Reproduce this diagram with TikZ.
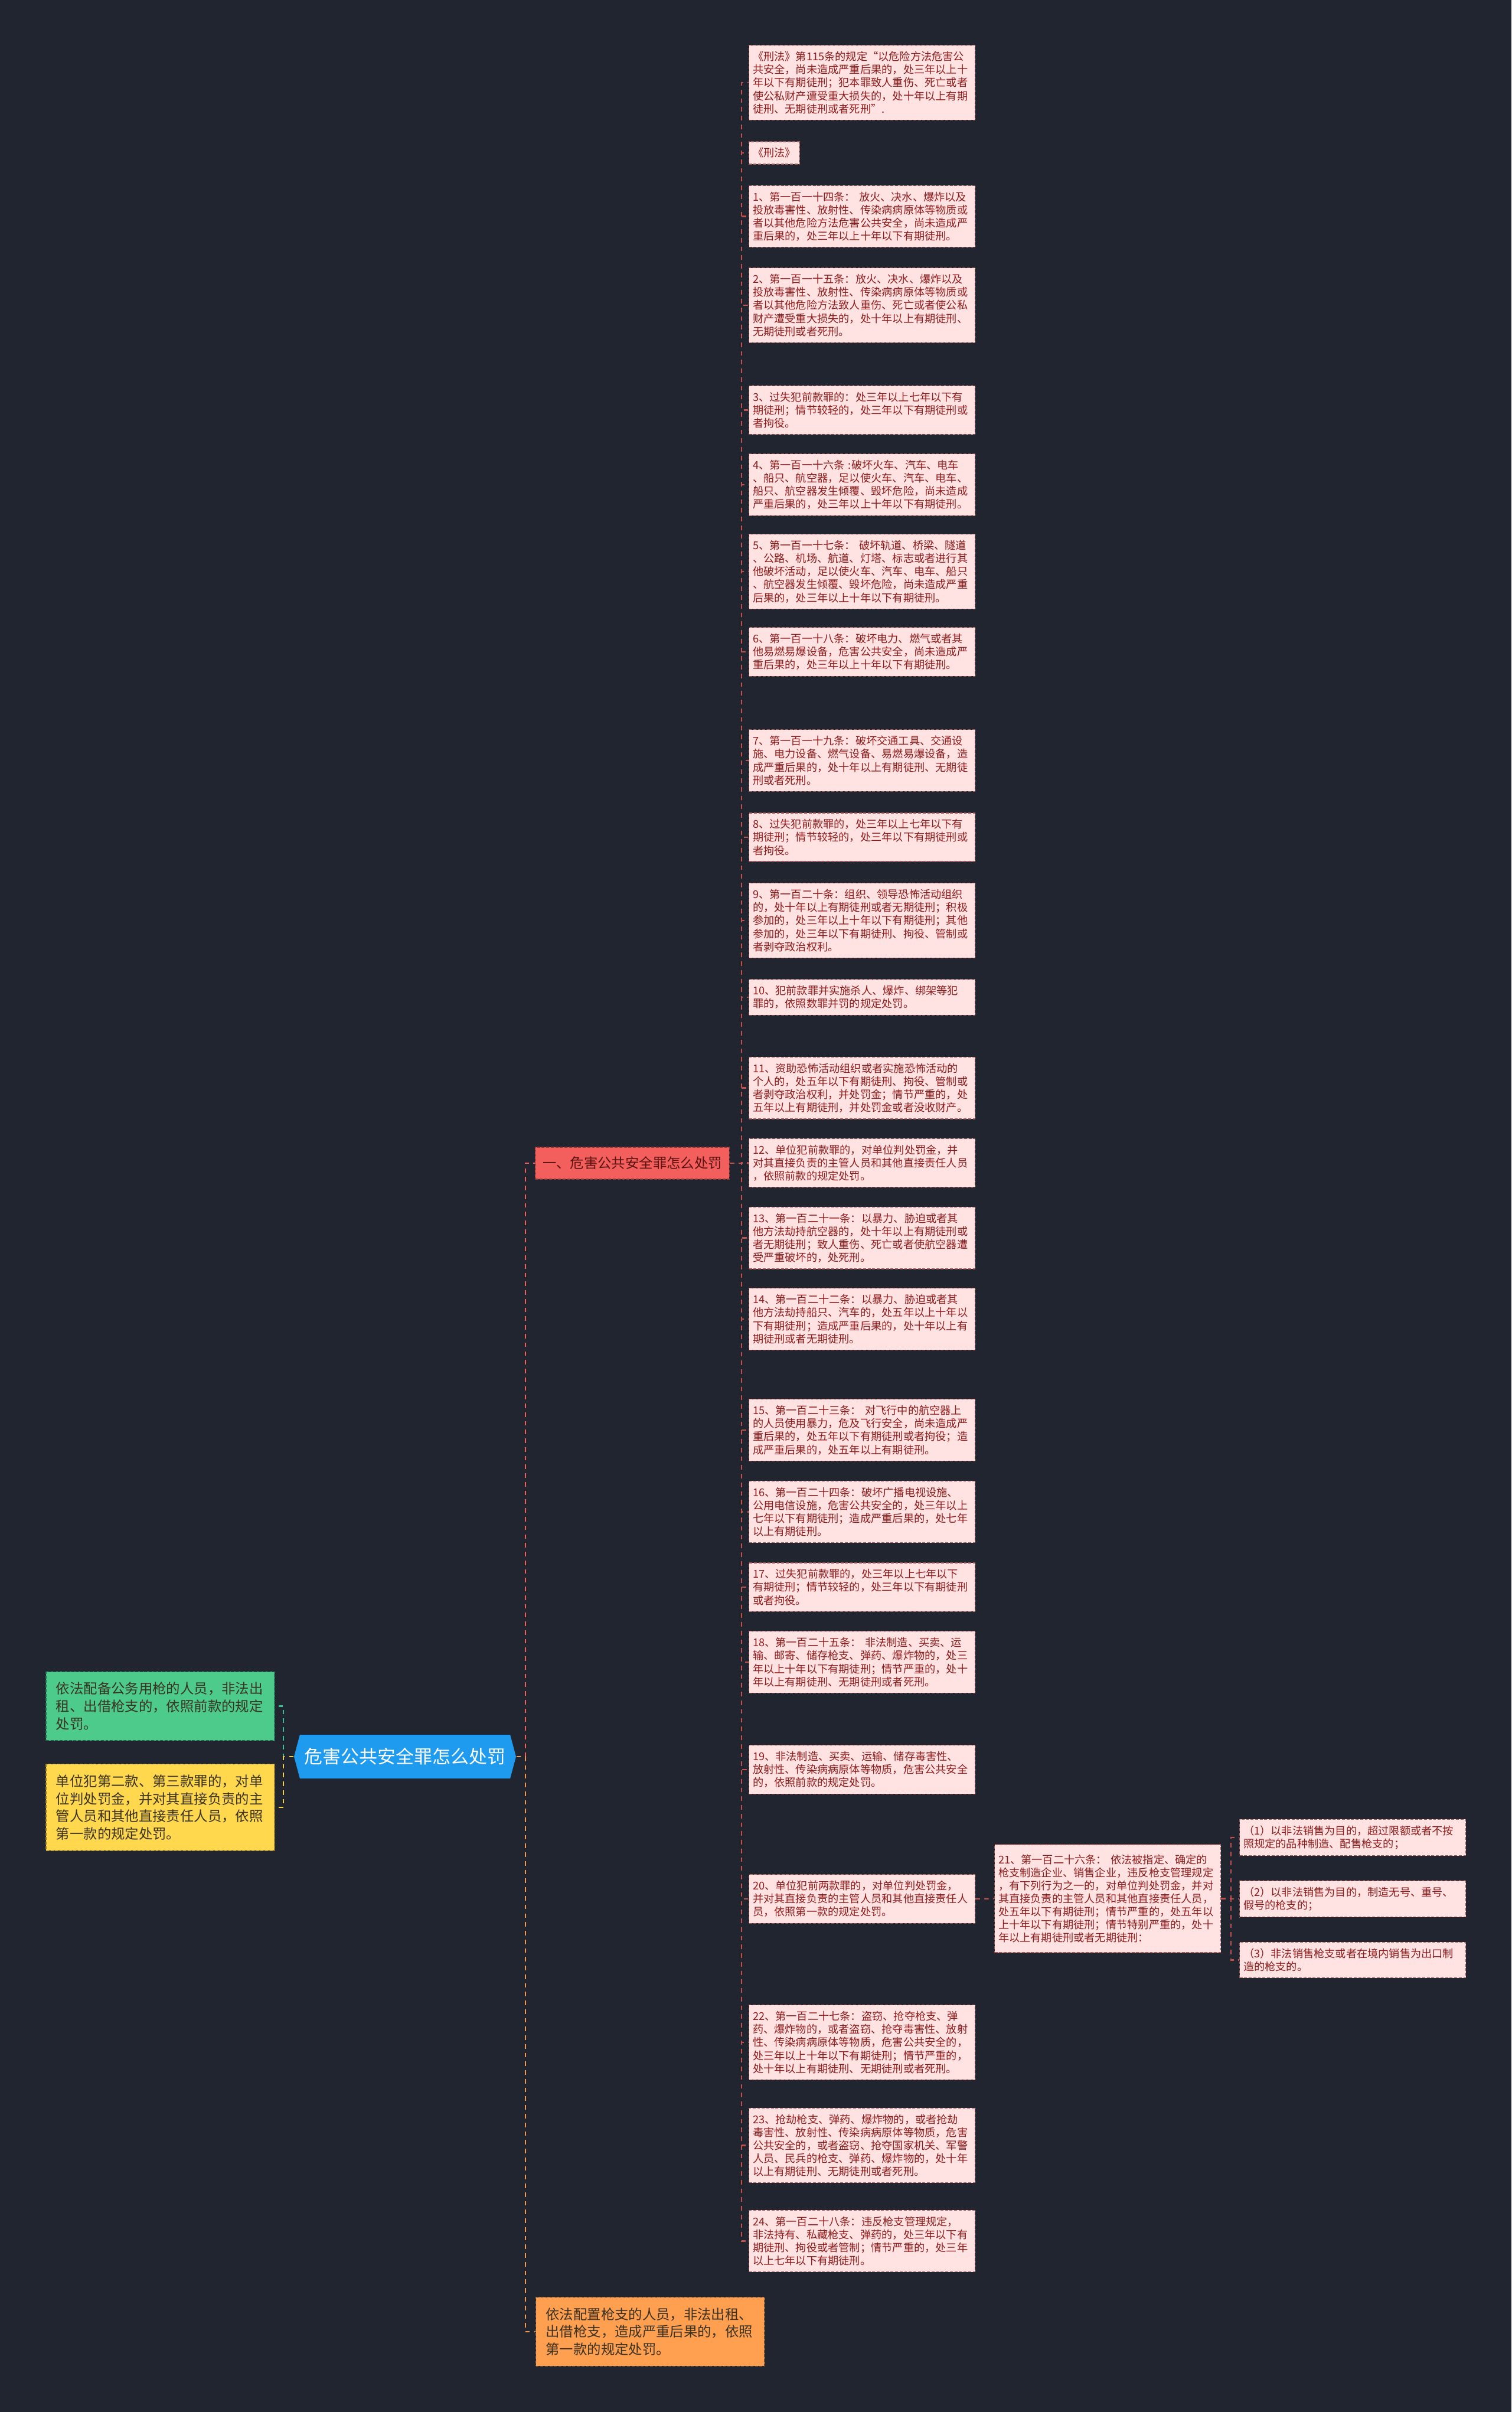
\documentclass[tikz,border=0pt]{standalone}
\usepackage{fontspec}
\setmainfont{Noto Sans CJK SC}
\usetikzlibrary{shapes.symbols}

\definecolor{bgcol}{HTML}{21252F}
\definecolor{pinkfill}{HTML}{FFE3E3}
\definecolor{pinkedge}{HTML}{A65858}
\definecolor{pinktext}{HTML}{8E1B1B}
\definecolor{pinkline}{HTML}{C4504C}
\definecolor{rootfill}{HTML}{1E9BEF}
\definecolor{hdrfill}{HTML}{F25F5C}
\definecolor{hdrtext}{HTML}{5A1212}
\definecolor{grnfill}{HTML}{4DCB8A}
\definecolor{grnline}{HTML}{3DBE96}
\definecolor{ylwfill}{HTML}{FFD84D}
\definecolor{ylwline}{HTML}{F2D046}
\definecolor{orgfill}{HTML}{FF9F50}
\definecolor{orgline}{HTML}{F09A55}
\definecolor{darktext}{HTML}{3A3222}

\begin{document}
\begin{tikzpicture}[
  pinkbox/.style={draw=pinkedge, line width=0.35pt, dash pattern=on 1.4pt off 0.8pt,
    fill=pinkfill, text=pinktext, font=\fontsize{5.18pt}{6.3pt}\selectfont,
    align=left, text width=3.70cm, inner xsep=0.065cm, inner ysep=0.105cm, anchor=west},
  pinkshort/.style={pinkbox, text width=, align=center},
  sidebox/.style={line width=0.35pt, dash pattern=on 1.4pt off 0.8pt, text=darktext,
    font=\fontsize{6.65pt}{8.5pt}\selectfont, align=left, text width=3.53cm,
    inner xsep=0.17cm, inner ysep=0.175cm},
  link/.style={line width=0.6pt, dash pattern=on 2.2pt off 2pt},
  pinklink/.style={link, draw=pinkline}
]
\fill[bgcol] (0,0) rectangle (25.6,-40.85);

% root and first level
\node[signal, signal to=west and east, signal pointer angle=150, fill=rootfill,
  text=white, font=\fontsize{8.8pt}{10pt}\selectfont, minimum height=0.74cm,
  inner xsep=0.08cm, inner ysep=0pt] (root) at (6.86,-29.75) {危害公共安全罪怎么处罚};

\node[sidebox, draw=grnline!60!black, fill=grnfill] (grn) at (2.715,-28.895)
  {依法配备公务用枪的人员，非法出\\租、出借枪支的，依照前款的规定\\处罚。};
\node[sidebox, draw=ylwline!60!black, fill=ylwfill] (ylw) at (2.715,-30.61)
  {单位犯第二款、第三款罪的，对单\\位判处罚金，并对其直接负责的主\\管人员和其他直接责任人员，依照\\第一款的规定处罚。};
\node[sidebox, draw=orgline!60!black, fill=orgfill] (org) at (11.01,-39.49)
  {依法配置枪支的人员，非法出租、\\出借枪支，造成严重后果的，依照\\第一款的规定处罚。};
\node[line width=0.35pt, dash pattern=on 1.4pt off 0.8pt, draw=hdrfill!60!black,
  fill=hdrfill, text=hdrtext, font=\fontsize{6.65pt}{8.5pt}\selectfont,
  inner xsep=0.125cm, minimum height=0.54cm] (hdr) at (10.71,-19.70) {一、危害公共安全罪怎么处罚};

% law text column
\node[pinkbox] (b0) at (12.68,-1.40) {《刑法》第115条的规定“以危险方法危害公\\共安全，尚未造成严重后果的，处三年以上十\\年以下有期徒刑；犯本罪致人重伤、死亡或者\\使公私财产遭受重大损失的，处十年以上有期\\徒刑、无期徒刑或者死刑”.};
\node[pinkshort] (bx) at (12.68,-2.59) {《刑法》};
\node[pinkbox] (b1) at (12.68,-3.665) {1、第一百一十四条： 放火、决水、爆炸以及\\投放毒害性、放射性、传染病病原体等物质或\\者以其他危险方法危害公共安全，尚未造成严\\重后果的，处三年以上十年以下有期徒刑。};
\node[pinkbox] (b2) at (12.68,-5.17) {2、第一百一十五条：放火、决水、爆炸以及\\投放毒害性、放射性、传染病病原体等物质或\\者以其他危险方法致人重伤、死亡或者使公私\\财产遭受重大损失的，处十年以上有期徒刑、\\无期徒刑或者死刑。};
\node[pinkbox] (b3) at (12.68,-6.945) {3、过失犯前款罪的：处三年以上七年以下有\\期徒刑；情节较轻的，处三年以下有期徒刑或\\者拘役。};
\node[pinkbox] (b4) at (12.68,-8.21) {4、第一百一十六条 :破坏火车、汽车、电车\\、船只、航空器，足以使火车、汽车、电车、\\船只、航空器发生倾覆、毁坏危险，尚未造成\\严重后果的，处三年以上十年以下有期徒刑。};
\node[pinkbox] (b5) at (12.68,-9.68) {5、第一百一十七条： 破坏轨道、桥梁、隧道\\、公路、机场、航道、灯塔、标志或者进行其\\他破坏活动，足以使火车、汽车、电车、船只\\、航空器发生倾覆、毁坏危险，尚未造成严重\\后果的，处三年以上十年以下有期徒刑。};
\node[pinkbox] (b6) at (12.68,-11.04) {6、第一百一十八条：破坏电力、燃气或者其\\他易燃易爆设备，危害公共安全，尚未造成严\\重后果的，处三年以上十年以下有期徒刑。};
\node[pinkbox] (b7) at (12.68,-12.88) {7、第一百一十九条：破坏交通工具、交通设\\施、电力设备、燃气设备、易燃易爆设备，造\\成严重后果的，处十年以上有期徒刑、无期徒\\刑或者死刑。};
\node[pinkbox] (b8) at (12.68,-14.18) {8、过失犯前款罪的，处三年以上七年以下有\\期徒刑；情节较轻的，处三年以下有期徒刑或\\者拘役。};
\node[pinkbox] (b9) at (12.68,-15.59) {9、第一百二十条：组织、领导恐怖活动组织\\的，处十年以上有期徒刑或者无期徒刑；积极\\参加的，处三年以上十年以下有期徒刑；其他\\参加的，处三年以下有期徒刑、拘役、管制或\\者剥夺政治权利。};
\node[pinkbox] (b10) at (12.68,-16.89) {10、犯前款罪并实施杀人、爆炸、绑架等犯\\罪的，依照数罪并罚的规定处罚。};
\node[pinkbox] (b11) at (12.68,-18.425) {11、资助恐怖活动组织或者实施恐怖活动的\\个人的，处五年以下有期徒刑、拘役、管制或\\者剥夺政治权利，并处罚金；情节严重的，处\\五年以上有期徒刑，并处罚金或者没收财产。};
\node[pinkbox] (b12) at (12.68,-19.695) {12、单位犯前款罪的，对单位判处罚金，并\\对其直接负责的主管人员和其他直接责任人员\\，依照前款的规定处罚。};
\node[pinkbox] (b13) at (12.68,-20.965) {13、第一百二十一条：以暴力、胁迫或者其\\他方法劫持航空器的，处十年以上有期徒刑或\\者无期徒刑；致人重伤、死亡或者使航空器遭\\受严重破坏的，处死刑。};
\node[pinkbox] (b14) at (12.68,-22.34) {14、第一百二十二条：以暴力、胁迫或者其\\他方法劫持船只、汽车的，处五年以上十年以\\下有期徒刑；造成严重后果的，处十年以上有\\期徒刑或者无期徒刑。};
\node[pinkbox] (b15) at (12.68,-24.22) {15、第一百二十三条： 对飞行中的航空器上\\的人员使用暴力，危及飞行安全，尚未造成严\\重后果的，处五年以下有期徒刑或者拘役；造\\成严重后果的，处五年以上有期徒刑。};
\node[pinkbox] (b16) at (12.68,-25.605) {16、第一百二十四条：破坏广播电视设施、\\公用电信设施，危害公共安全的，处三年以上\\七年以下有期徒刑；造成严重后果的，处七年\\以上有期徒刑。};
\node[pinkbox] (b17) at (12.68,-26.88) {17、过失犯前款罪的，处三年以上七年以下\\有期徒刑；情节较轻的，处三年以下有期徒刑\\或者拘役。};
\node[pinkbox] (b18) at (12.68,-28.15) {18、第一百二十五条： 非法制造、买卖、运\\输、邮寄、储存枪支、弹药、爆炸物的，处三\\年以上十年以下有期徒刑；情节严重的，处十\\年以上有期徒刑、无期徒刑或者死刑。};
\node[pinkbox] (b19) at (12.68,-29.97) {19、非法制造、买卖、运输、储存毒害性、\\放射性、传染病病原体等物质，危害公共安全\\的，依照前款的规定处罚。};
\node[pinkbox] (b20) at (12.68,-32.16) {20、单位犯前两款罪的，对单位判处罚金，\\并对其直接负责的主管人员和其他直接责任人\\员，依照第一款的规定处罚。};
\node[pinkbox] (b22) at (12.68,-34.59) {22、第一百二十七条：盗窃、抢夺枪支、弹\\药、爆炸物的，或者盗窃、抢夺毒害性、放射\\性、传染病病原体等物质，危害公共安全的，\\处三年以上十年以下有期徒刑；情节严重的，\\处十年以上有期徒刑、无期徒刑或者死刑。};
\node[pinkbox] (b23) at (12.68,-36.335) {23、抢劫枪支、弹药、爆炸物的，或者抢劫\\毒害性、放射性、传染病病原体等物质，危害\\公共安全的，或者盗窃、抢夺国家机关、军警\\人员、民兵的枪支、弹药、爆炸物的，处十年\\以上有期徒刑、无期徒刑或者死刑。};
\node[pinkbox] (b24) at (12.68,-37.955) {24、第一百二十八条：违反枪支管理规定，\\非法持有、私藏枪支、弹药的，处三年以下有\\期徒刑、拘役或者管制；情节严重的，处三年\\以上七年以下有期徒刑。};

% article 126 and its items
\node[pinkbox, minimum height=1.83cm] (b21) at (16.84,-32.155) {21、第一百二十六条： 依法被指定、确定的\\枪支制造企业、销售企业，违反枪支管理规定\\，有下列行为之一的，对单位判处罚金，并对\\其直接负责的主管人员和其他直接责任人员，\\处五年以下有期徒刑；情节严重的，处五年以\\上十年以下有期徒刑；情节特别严重的，处十\\年以上有期徒刑或者无期徒刑：};
\node[pinkbox] (s1) at (20.99,-31.12) {（1）以非法销售为目的，超过限额或者不按\\照规定的品种制造、配售枪支的；};
\node[pinkbox] (s2) at (20.99,-32.16) {（2）以非法销售为目的，制造无号、重号、\\假号的枪支的；};
\node[pinkbox] (s3) at (20.99,-33.195) {（3）非法销售枪支或者在境内销售为出口制\\造的枪支的。};

% connectors
\draw[link, draw=grnline] (root.west) -- ++(-0.17,0) |- (grn.east);
\draw[link, draw=ylwline] (root.west) -- ++(-0.17,0) |- (ylw.east);
\draw[link, draw=hdrfill] (root.east) -- ++(0.15,0) |- (hdr.west);
\draw[link, draw=orgline] (root.east) -- ++(0.15,0) |- (org.west);
\foreach \b in {b0,bx,b1,b2,b3,b4,b5,b6,b7,b8,b9,b10,b11,b12,b13,b14,b15,b16,b17,b18,b19,b20,b22,b23,b24}
  \draw[pinklink] (hdr.east) -- ++(0.2,0) |- (\b.west);
\draw[pinklink] (b20.east) -- (b21.west);
\foreach \s in {s1,s2,s3}
  \draw[pinklink] (b21.east) -- ++(0.17,0) |- (\s.west);
\end{tikzpicture}
\end{document}
